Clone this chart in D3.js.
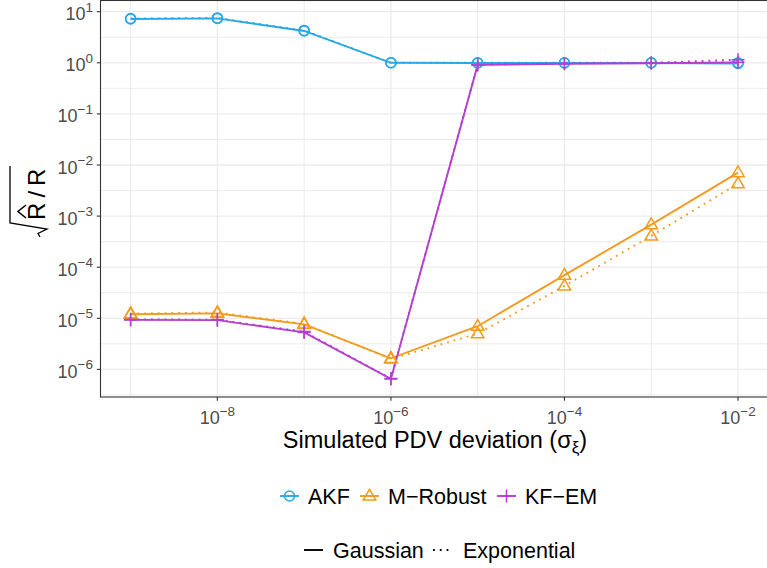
<!DOCTYPE html>
<html>
<head>
<meta charset="utf-8">
<script src="https://cdn.jsdelivr.net/npm/d3@7"></script>
<style>
  html, body { margin: 0; padding: 0; background: #fff; }
  svg { display: block; font-family: "Liberation Sans", Arial, sans-serif; }
</style>
</head>
<body>
<svg id="chart" width="767" height="568"></svg>
<script>
// Simulated PDV deviation (x) and normalised noise estimate sqrt(R_hat / R) (y)
const sigma = [1e-9, 1e-8, 1e-7, 1e-6, 1e-5, 1e-4, 1e-3, 1e-2];

const akfGaussian     = [7.2, 7.4, 4.2, 1.0, 0.99, 0.99, 0.99, 0.97];
const akfExponential  = [7.35, 7.55, 4.3, 1.0, 1.0, 1.0, 1.0, 1.0];
const mrobGaussian    = [1.2e-5, 1.25e-5, 7.6e-6, 1.65e-6, 7.0e-6, 7.0e-5, 6.8e-4, 7.1e-3];
const mrobExponential = [1.24e-5, 1.3e-5, 7.8e-6, 1.6e-6, 5.0e-6, 4.3e-5, 4.1e-4, 4.3e-3];
const kfemGaussian    = [9.3e-6, 9.2e-6, 5.3e-6, 6.5e-7, 0.91, 0.96, 0.98, 1.02];
const kfemExponential = [9.5e-6, 9.4e-6, 5.5e-6, 6.6e-7, 0.92, 0.97, 1.0, 1.15];

const methods = ["AKF", "M\u2212Robust", "KF\u2212EM"];
const noises = ["Gaussian", "Exponential"];
const xTickExps = [-8, -6, -4, -2];
const yTickExps = [1, 0, -1, -2, -3, -4, -5, -6];

const colors = { "AKF": "#2aa8e6", "M\u2212Robust": "#f29b1f", "KF\u2212EM": "#b43fcf" };
const dashes = { "Gaussian": null, "Exponential": "1.8,5" };
const shapes = { "AKF": "circle", "M\u2212Robust": "triangle", "KF\u2212EM": "cross" };

const seriesValues = {
  "AKF": { "Gaussian": akfGaussian, "Exponential": akfExponential },
  "M\u2212Robust": { "Gaussian": mrobGaussian, "Exponential": mrobExponential },
  "KF\u2212EM": { "Gaussian": kfemGaussian, "Exponential": kfemExponential }
};

const svg = d3.select("#chart");
const panel = { left: 100.5, top: 0.5, right: 770, bottom: 397 };

const x = d3.scaleLog().domain([1e-9, 1e-2]).range([130.6, 738]);
const y = d3.scaleLog().domain([1e-6, 10]).range([369.4, 11.7]);

// panel background and grid
svg.append("rect").attr("x", panel.left).attr("y", panel.top)
  .attr("width", panel.right - panel.left).attr("height", panel.bottom - panel.top)
  .attr("fill", "#fff");

const grid = svg.append("g");
const minorX = [-9, -7, -5, -3].map(e => Math.pow(10, e));
const majorX = xTickExps.map(e => Math.pow(10, e));
const minorY = d3.range(-6.5, 1.6, 1).map(e => Math.pow(10, e));
const majorY = yTickExps.map(e => Math.pow(10, e));

grid.selectAll(".mx").data(minorX).join("line")
  .attr("x1", d => x(d)).attr("x2", d => x(d))
  .attr("y1", panel.top).attr("y2", panel.bottom)
  .attr("stroke", "#ebebeb").attr("stroke-width", 1);
grid.selectAll(".Mx").data(majorX).join("line")
  .attr("x1", d => x(d)).attr("x2", d => x(d))
  .attr("y1", panel.top).attr("y2", panel.bottom)
  .attr("stroke", "#ebebeb").attr("stroke-width", 1.3);
grid.selectAll(".my").data(minorY.filter(v => y(v) > panel.top && y(v) < panel.bottom)).join("line")
  .attr("x1", panel.left).attr("x2", panel.right)
  .attr("y1", d => y(d)).attr("y2", d => y(d))
  .attr("stroke", "#ebebeb").attr("stroke-width", 1);
grid.selectAll(".My").data(majorY).join("line")
  .attr("x1", panel.left).attr("x2", panel.right)
  .attr("y1", d => y(d)).attr("y2", d => y(d))
  .attr("stroke", "#ebebeb").attr("stroke-width", 1.3);

// symbol drawing
function drawMarker(g, shape, cx, cy, color) {
  if (shape === "circle") {
    g.append("circle").attr("cx", cx).attr("cy", cy).attr("r", 5)
      .attr("fill", "none").attr("stroke", color).attr("stroke-width", 1.5);
  } else if (shape === "triangle") {
    const s = 12.5, h = s * Math.sqrt(3) / 2;
    const pts = [[cx, cy - h * 0.62], [cx - s / 2, cy + h * 0.38], [cx + s / 2, cy + h * 0.38]];
    g.append("path").attr("d", "M" + pts.map(p => p.join(",")).join("L") + "Z")
      .attr("fill", "none").attr("stroke", color).attr("stroke-width", 1.5);
  } else {
    const r = 6.5;
    g.append("path").attr("d", `M${cx - r},${cy}L${cx + r},${cy}M${cx},${cy - r}L${cx},${cy + r}`)
      .attr("fill", "none").attr("stroke", color).attr("stroke-width", 1.5);
  }
}

// lines
const clip = svg.append("clipPath").attr("id", "pclip").append("rect")
  .attr("x", panel.left).attr("y", panel.top)
  .attr("width", panel.right - panel.left).attr("height", panel.bottom - panel.top);
const plot = svg.append("g").attr("clip-path", "url(#pclip)");
const line = d3.line().x(d => x(d[0])).y(d => y(d[1]));

methods.forEach(m => {
  noises.forEach(n => {
    const pts = sigma.map((s, i) => [s, seriesValues[m][n][i]]);
    plot.append("path").datum(pts).attr("d", line)
      .attr("fill", "none").attr("stroke", colors[m]).attr("stroke-width", 1.9)
      .attr("stroke-dasharray", dashes[n]).attr("stroke-linecap", "butt");
  });
});
methods.forEach(m => {
  noises.forEach(n => {
    sigma.forEach((s, i) => drawMarker(plot, shapes[m], x(s), y(seriesValues[m][n][i]), colors[m]));
  });
});

// panel border
svg.append("rect").attr("x", panel.left).attr("y", panel.top)
  .attr("width", panel.right - panel.left).attr("height", panel.bottom - panel.top)
  .attr("fill", "none").attr("stroke", "#333").attr("stroke-width", 1.1);

// axes ticks and labels
const tickColor = "#333", labColor = "#4d4d4d";
const axes = svg.append("g");
yTickExps.forEach(e => {
  const yy = y(Math.pow(10, e));
  axes.append("line").attr("x1", panel.left - 3.7).attr("x2", panel.left)
    .attr("y1", yy).attr("y2", yy).attr("stroke", tickColor).attr("stroke-width", 1.1);
  const t = axes.append("text").attr("x", 93).attr("y", yy + 8.5)
    .attr("text-anchor", "end").attr("fill", labColor).attr("font-size", 18);
  t.append("tspan").text("10");
  t.append("tspan").attr("dy", -8.5).attr("font-size", 13.5).text(e < 0 ? "\u2212" + (-e) : String(e));
});
xTickExps.forEach(e => {
  const xx = x(Math.pow(10, e));
  axes.append("line").attr("x1", xx).attr("x2", xx)
    .attr("y1", panel.bottom).attr("y2", panel.bottom + 3.7)
    .attr("stroke", tickColor).attr("stroke-width", 1.1);
  const t = axes.append("text").attr("x", xx).attr("y", 424)
    .attr("text-anchor", "middle").attr("fill", labColor).attr("font-size", 18);
  t.append("tspan").text("10");
  t.append("tspan").attr("dy", -8.5).attr("font-size", 13.5).text("\u2212" + (-e));
});

// x-axis title
const xt = svg.append("text").attr("x", 435).attr("y", 447.5)
  .attr("text-anchor", "middle").attr("font-size", 23.5).attr("fill", "#000");
xt.append("tspan").text("Simulated PDV deviation (\u03c3");
xt.append("tspan").attr("dy", 5).attr("font-size", 17).text("\u03be");
xt.append("tspan").attr("dy", -5).text(")");

// y-axis title: sqrt(R-hat / R), rotated
const yt = svg.append("g").attr("transform", "translate(45,199) rotate(-90)");
yt.append("text").attr("x", -21).attr("y", 0).attr("font-size", 24).attr("fill", "#000").text("R");
yt.append("text").attr("x", 1.5).attr("y", 0).attr("font-size", 24).attr("fill", "#000").text("/");
yt.append("text").attr("x", 13).attr("y", 0).attr("font-size", 24).attr("fill", "#000").text("R");
yt.append("path").attr("d", "M-19,-19L-12.5,-27L-6,-19")
  .attr("fill", "none").attr("stroke", "#000").attr("stroke-width", 1.6);
yt.append("path").attr("d", "M-38,-5L-34.5,-7L-30,2L-24,-35L33,-35")
  .attr("fill", "none").attr("stroke", "#000").attr("stroke-width", 1.3);

// legend: methods
const leg1 = svg.append("g");
const row1 = [
  { m: "AKF", kx: 280, tx: 308 },
  { m: "M\u2212Robust", kx: 360, tx: 388 },
  { m: "KF\u2212EM", kx: 497, tx: 525 }
];
row1.forEach(r => {
  leg1.append("line").attr("x1", r.kx).attr("x2", r.kx + 19).attr("y1", 496).attr("y2", 496)
    .attr("stroke", colors[r.m]).attr("stroke-width", 1.9);
  drawMarker(leg1, shapes[r.m], r.kx + 9.5, 496, colors[r.m]);
  leg1.append("text").attr("x", r.tx).attr("y", 504).attr("font-size", 21.5).attr("fill", "#000").text(r.m);
});

// legend: noise distribution
const leg2 = svg.append("g");
const row2 = [
  { n: "Gaussian", kx: 304, tx: 333 },
  { n: "Exponential", kx: 433, tx: 463 }
];
row2.forEach(r => {
  leg2.append("line").attr("x1", r.kx).attr("x2", r.kx + 19).attr("y1", 550).attr("y2", 550)
    .attr("stroke", "#000").attr("stroke-width", 1.9).attr("stroke-dasharray", dashes[r.n]);
  leg2.append("text").attr("x", r.tx).attr("y", 558).attr("font-size", 21.5).attr("fill", "#000").text(r.n);
});
</script>
</body>
</html>
